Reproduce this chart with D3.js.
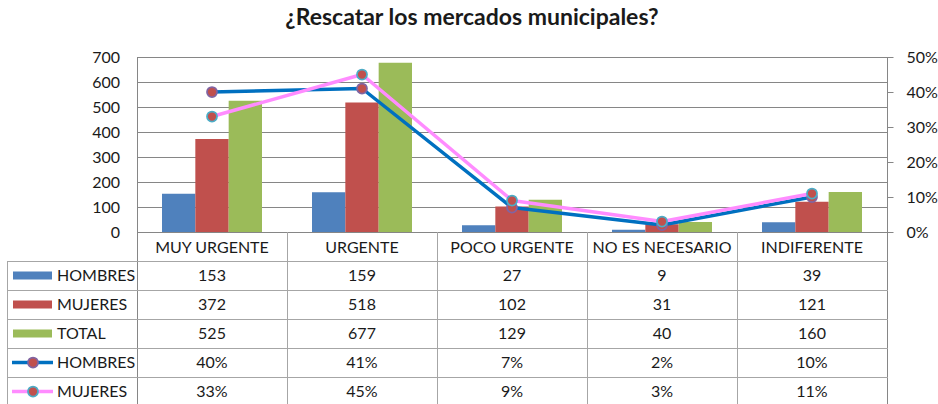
<!DOCTYPE html>
<html>
<head>
<meta charset="utf-8">
<script src="https://cdn.jsdelivr.net/npm/d3@7"></script>
<style>
  html, body { margin: 0; padding: 0; background: #fff; }
  svg { display: block; font-family: Lato, "Open Sans", sans-serif; }
</style>
</head>
<body>
<svg id="chart" width="938" height="404"></svg>
<script>
// Survey answers per category
const categories = ["MUY URGENTE", "URGENTE", "POCO URGENTE", "NO ES NECESARIO", "INDIFERENTE"];
const hombres = [153, 159, 27, 9, 39];
const mujeres = [372, 518, 102, 31, 121];
const total = [525, 677, 129, 40, 160];
// Share of each group's answers (right axis)
const pctHombres = [0.40, 0.41, 0.07, 0.02, 0.10];
const pctMujeres = [0.33, 0.45, 0.09, 0.03, 0.11];
// Axis ticks
const leftTicks = [0, 100, 200, 300, 400, 500, 600, 700];
const rightTicks = [0, 0.1, 0.2, 0.3, 0.4, 0.5];

const title = "¿Rescatar los mercados municipales?";

const svg = d3.select("#chart");
const W = 938, H = 404;
const plot = { left: 137, right: 887, top: 57, bottom: 232 };
const tableLeft = 7;
const rowH = 29;
const headerBottom = 261;

const barColors = ["#4F81BD", "#C0504D", "#9BBB59"];
const lineSeries = [
  { name: "HOMBRES", values: pctHombres, color: "#0070C0", ring: "#8064A2" },
  { name: "MUJERES", values: pctMujeres, color: "#FF8CFF", ring: "#4BACC6" }
];
const barSeries = [
  { name: "HOMBRES", values: hombres, color: barColors[0] },
  { name: "MUJERES", values: mujeres, color: barColors[1] },
  { name: "TOTAL", values: total, color: barColors[2] }
];

const x = d3.scaleBand().domain(categories).range([plot.left, plot.right]).padding(0);
const inner = d3.scaleBand().domain([0, 1, 2])
  .range([x.bandwidth() / 6, x.bandwidth() * 5 / 6]).padding(0);
const yL = d3.scaleLinear().domain([0, 700]).range([plot.bottom, plot.top]);
const yR = d3.scaleLinear().domain([0, 0.5]).range([plot.bottom, plot.top]);

const gridColor = "#868686";
const tableColor = "#A6A6A6";
const textColor = "#1a1a1a";

// Title
svg.append("text")
  .attr("x", 472).attr("y", 25)
  .attr("text-anchor", "middle")
  .attr("font-size", 23).attr("font-weight", "bold")
  .attr("fill", textColor)
  .text(title);

// Horizontal gridlines
svg.append("g").selectAll("line").data(leftTicks).join("line")
  .attr("x1", plot.left).attr("x2", plot.right)
  .attr("y1", d => Math.round(yL(d)) + 0.5).attr("y2", d => Math.round(yL(d)) + 0.5)
  .attr("stroke", gridColor).attr("stroke-width", 1);

// Left axis
const leftAxis = d3.axisLeft(yL).tickValues(leftTicks).tickSize(0).tickPadding(17);
const gL = svg.append("g").attr("transform", `translate(${plot.left},0)`).call(leftAxis);
gL.select(".domain").remove();
gL.selectAll("text").attr("font-size", 16).attr("fill", textColor).attr("font-family", "Lato, sans-serif");

// Right axis
const rightAxis = d3.axisRight(yR).tickValues(rightTicks).tickSize(6).tickPadding(13)
  .tickFormat(d3.format(".0%"));
const gR = svg.append("g").attr("transform", `translate(${plot.right + 0.5},0)`).call(rightAxis);
gR.select(".domain").remove();
gR.selectAll("line").attr("stroke", gridColor);
gR.selectAll("text").attr("font-size", 16).attr("fill", textColor).attr("font-family", "Lato, sans-serif");

// Bars
const bars = svg.append("g");
barSeries.forEach((s, si) => {
  bars.append("g").selectAll("rect").data(s.values).join("rect")
    .attr("x", (d, i) => x(categories[i]) + inner(si))
    .attr("width", inner.bandwidth())
    .attr("y", d => yL(d))
    .attr("height", d => yL(0) - yL(d))
    .attr("fill", s.color);
});

// Vertical axis lines through plot and table
svg.append("line")
  .attr("x1", plot.left + 0.5).attr("x2", plot.left + 0.5)
  .attr("y1", plot.top).attr("y2", H)
  .attr("stroke", gridColor);
svg.append("line")
  .attr("x1", plot.right + 0.5).attr("x2", plot.right + 0.5)
  .attr("y1", plot.top).attr("y2", H)
  .attr("stroke", gridColor);

// Lines with markers
const line = d3.line().x((d, i) => x(categories[i]) + x.bandwidth() / 2).y(d => yR(d));
lineSeries.forEach(s => {
  const g = svg.append("g");
  g.append("path").datum(s.values)
    .attr("d", line)
    .attr("fill", "none")
    .attr("stroke", s.color)
    .attr("stroke-width", 3.5)
    .attr("stroke-linejoin", "round");
  g.selectAll("circle").data(s.values).join("circle")
    .attr("cx", (d, i) => x(categories[i]) + x.bandwidth() / 2)
    .attr("cy", d => yR(d))
    .attr("r", 5)
    .attr("fill", "#C0504D")
    .attr("stroke", s.ring)
    .attr("stroke-width", 1.75);
});

// Data table
const table = svg.append("g");
const rows = [
  ...barSeries.map(s => ({ kind: "bar", s, labels: s.values.map(String) })),
  ...lineSeries.map(s => ({ kind: "line", s, labels: s.values.map(d3.format(".0%")) }))
];

// Category column dividers
categories.forEach((c, i) => {
  if (i === 0) return;
  const xx = Math.round(x(c)) + 0.5;
  table.append("line").attr("x1", xx).attr("x2", xx)
    .attr("y1", plot.bottom).attr("y2", H).attr("stroke", tableColor);
});
// Left border of the table body
table.append("line").attr("x1", tableLeft + 0.5).attr("x2", tableLeft + 0.5)
  .attr("y1", headerBottom).attr("y2", H).attr("stroke", tableColor);
// Row separators
rows.forEach((r, ri) => {
  const yy = headerBottom + ri * rowH + 0.5;
  table.append("line").attr("x1", tableLeft).attr("x2", plot.right + 1)
    .attr("y1", yy).attr("y2", yy).attr("stroke", tableColor);
});
table.append("line").attr("x1", tableLeft).attr("x2", plot.right + 1)
  .attr("y1", headerBottom + rows.length * rowH + 0.5).attr("y2", headerBottom + rows.length * rowH + 0.5)
  .attr("stroke", tableColor);

// Header labels
table.selectAll("text.cat").data(categories).join("text")
  .attr("class", "cat")
  .attr("x", d => x(d) + x.bandwidth() / 2)
  .attr("y", (plot.bottom + headerBottom) / 2 + 1)
  .attr("dy", "0.35em")
  .attr("text-anchor", "middle")
  .attr("font-size", 16).attr("fill", textColor)
  .text(d => d);

// Rows: legend key, name, values
rows.forEach((r, ri) => {
  const cy = headerBottom + ri * rowH + rowH / 2;
  if (r.kind === "bar") {
    table.append("rect").attr("x", 13).attr("y", cy - 4).attr("width", 39).attr("height", 8)
      .attr("fill", r.s.color);
  } else {
    table.append("line").attr("x1", 12).attr("x2", 53).attr("y1", cy).attr("y2", cy)
      .attr("stroke", r.s.color).attr("stroke-width", 3.5);
    table.append("circle").attr("cx", 33).attr("cy", cy).attr("r", 5)
      .attr("fill", "#C0504D").attr("stroke", r.s.ring).attr("stroke-width", 1.75);
  }
  table.append("text").attr("x", 57).attr("y", cy).attr("dy", "0.35em")
    .attr("font-size", 16).attr("fill", textColor).text(r.s.name);
  table.append("g").selectAll("text").data(r.labels).join("text")
    .attr("x", (d, i) => x(categories[i]) + x.bandwidth() / 2)
    .attr("y", cy).attr("dy", "0.35em")
    .attr("text-anchor", "middle")
    .attr("font-size", 16).attr("fill", textColor)
    .text(d => d);
});
</script>
</body>
</html>
